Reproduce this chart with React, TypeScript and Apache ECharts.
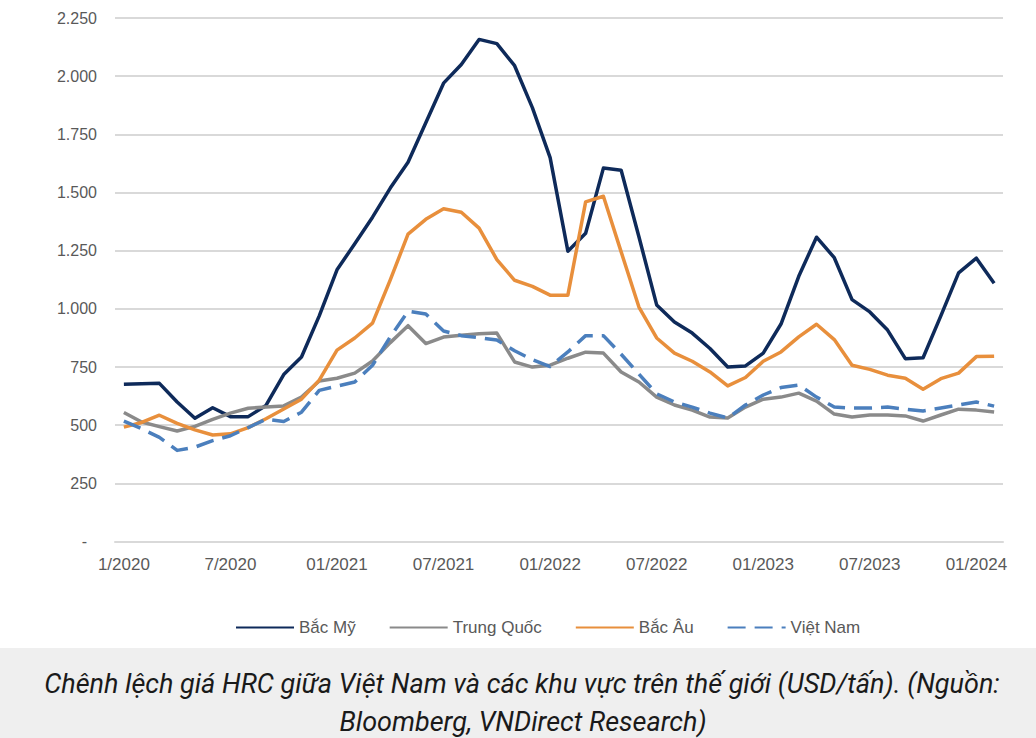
import React, { useEffect, useRef } from "react";
import * as echarts from "echarts";

const months = [
  "1/2020", "2/2020", "3/2020", "4/2020", "5/2020", "6/2020", "7/2020", "8/2020", "9/2020", "10/2020", "11/2020", "12/2020",
  "01/2021", "02/2021", "03/2021", "04/2021", "05/2021", "06/2021", "07/2021", "08/2021", "09/2021", "10/2021", "11/2021", "12/2021",
  "01/2022", "02/2022", "03/2022", "04/2022", "05/2022", "06/2022", "07/2022", "08/2022", "09/2022", "10/2022", "11/2022", "12/2022",
  "01/2023", "02/2023", "03/2023", "04/2023", "05/2023", "06/2023", "07/2023", "08/2023", "09/2023", "10/2023", "11/2023", "12/2023",
  "01/2024", "02/2024",
];

const bacMy = [
  676, 678, 680, 600, 530, 575, 537, 537, 585, 718, 793, 970,
  1168, 1280, 1394, 1519, 1630, 1800, 1970, 2050, 2158, 2140, 2045, 1865,
  1650, 1248, 1325, 1605, 1596, 1310, 1017, 944, 896, 830, 750, 755,
  810, 935, 1140, 1308, 1220, 1040, 987, 909, 786, 790, 970, 1155,
  1218, 1110,
];

const trungQuoc = [
  555, 514, 494, 475, 495, 525, 552, 573, 578, 583, 621, 690,
  702, 724, 776, 855, 928, 851, 879, 887, 893, 896, 772, 750,
  758, 788, 814, 810, 729, 686, 621, 587, 565, 535, 531, 578,
  612, 621, 638, 604, 548, 535, 544, 544, 540, 518, 544, 569,
  565, 557,
];

const bacAu = [
  492, 512, 543, 508, 480, 458, 463, 490, 528, 570, 612, 694,
  823, 875, 939, 1125, 1321, 1385, 1430, 1415, 1347, 1212, 1123, 1097,
  1059, 1059, 1460, 1484, 1245, 1008, 875, 810, 775, 729, 669, 705,
  775, 815, 880, 934, 868, 758, 740, 715, 702, 655, 700, 724,
  795, 797,
];

const vietNam = [
  518, 485, 448, 392, 406, 434, 455, 490, 526, 516, 556, 650,
  668, 686, 758, 880, 990, 978, 905, 885, 876, 866, 820, 782,
  752, 815, 885, 885, 805, 720, 635, 600, 578, 552, 531, 587,
  630, 662, 673, 621, 578, 574, 574, 578, 569, 561, 574, 587,
  600, 582,
];

const seriesNames = ["Bắc Mỹ", "Trung Quốc", "Bắc Âu", "Việt Nam"];
const captionLines = [
  "Chênh lệch giá HRC giữa Việt Nam và các khu vực trên thế giới (USD/tấn). (Nguồn:",
  "Bloomberg, VNDirect Research)",
];

function fmt(v: number): string {
  if (v === 0) return "{d|-}";
  return String(v).replace(/\B(?=(\d{3})+(?!\d))/g, ".");
}

export default function App() {
  const ref = useRef<HTMLDivElement>(null);
  useEffect(() => {
    if (!ref.current) return;
    const chart = echarts.init(ref.current, undefined, { renderer: "svg" });
    const labelColor = "#595959";
    const font = "'Liberation Sans', Arial, sans-serif";
    const mk = (name: string, data: number[], color: string, width: number, type: any) => ({
      name,
      type: "line",
      data,
      showSymbol: false,
      symbol: "none",
      smooth: false,
      lineStyle: { color, width, type, cap: "butt", join: "round" },
      itemStyle: { color },
    });
    chart.setOption({
      animation: false,
      backgroundColor: "#ffffff",
      textStyle: { fontFamily: font },
      grid: { left: 115, right: 33, top: 18, bottom: 196.4, containLabel: false },
      legend: {
        left: 230,
        top: 614,
        itemWidth: 58,
        itemHeight: 14,
        itemGap: 33,
        itemStyle: { opacity: 0 },
        textStyle: { color: labelColor, fontSize: 17, fontFamily: font },
        data: seriesNames,
      },
      xAxis: {
        type: "category",
        data: months,
        boundaryGap: true,
        axisLine: { show: true, lineStyle: { color: "#d9d9d9", width: 2 } },
        axisTick: { show: false },
        axisLabel: { interval: 5, color: labelColor, fontSize: 17, margin: 14, fontFamily: font },
        splitLine: { show: false },
      },
      yAxis: {
        type: "value",
        min: 0,
        max: 2250,
        interval: 250,
        axisLine: { show: false },
        axisTick: { show: false },
        axisLabel: {
          color: labelColor,
          fontSize: 16,
          margin: 18,
          fontFamily: font,
          formatter: fmt,
          rich: { d: { color: labelColor, fontSize: 16, fontFamily: font, padding: [0, 10, 0, 0] } },
        },
        splitLine: { show: true, lineStyle: { color: "#d9d9d9", width: 2 } },
      },
      series: [
        mk(seriesNames[0], bacMy, "#0e2a5a", 3.5, "solid"),
        mk(seriesNames[1], trungQuoc, "#8a8a8a", 3.5, "solid"),
        mk(seriesNames[2], bacAu, "#e88f3c", 3.5, "solid"),
        mk(seriesNames[3], vietNam, "#4b7fbd", 3.5, [18, 9]),
      ],
      graphic: [
        {
          type: "rect",
          left: 0,
          top: 648,
          shape: { width: 1036, height: 90 },
          style: { fill: "#efefef" },
          silent: true,
        },
        {
          type: "text",
          x: 522,
          y: 684,
          style: {
            text: captionLines[0],
            fill: "#1a1a1a",
            font: "italic 27px Roboto, 'Noto Sans', sans-serif",
            align: "center",
            verticalAlign: "middle",
          },
        },
        {
          type: "text",
          x: 523,
          y: 722,
          style: {
            text: captionLines[1],
            fill: "#1a1a1a",
            font: "italic 27px Roboto, 'Noto Sans', sans-serif",
            align: "center",
            verticalAlign: "middle",
          },
        },
      ],
    });
    return () => chart.dispose();
  }, []);
  return (
    <div
      ref={ref}
      style={{ position: "fixed", left: 0, top: 0, width: 1036, height: 738 }}
    />
  );
}
